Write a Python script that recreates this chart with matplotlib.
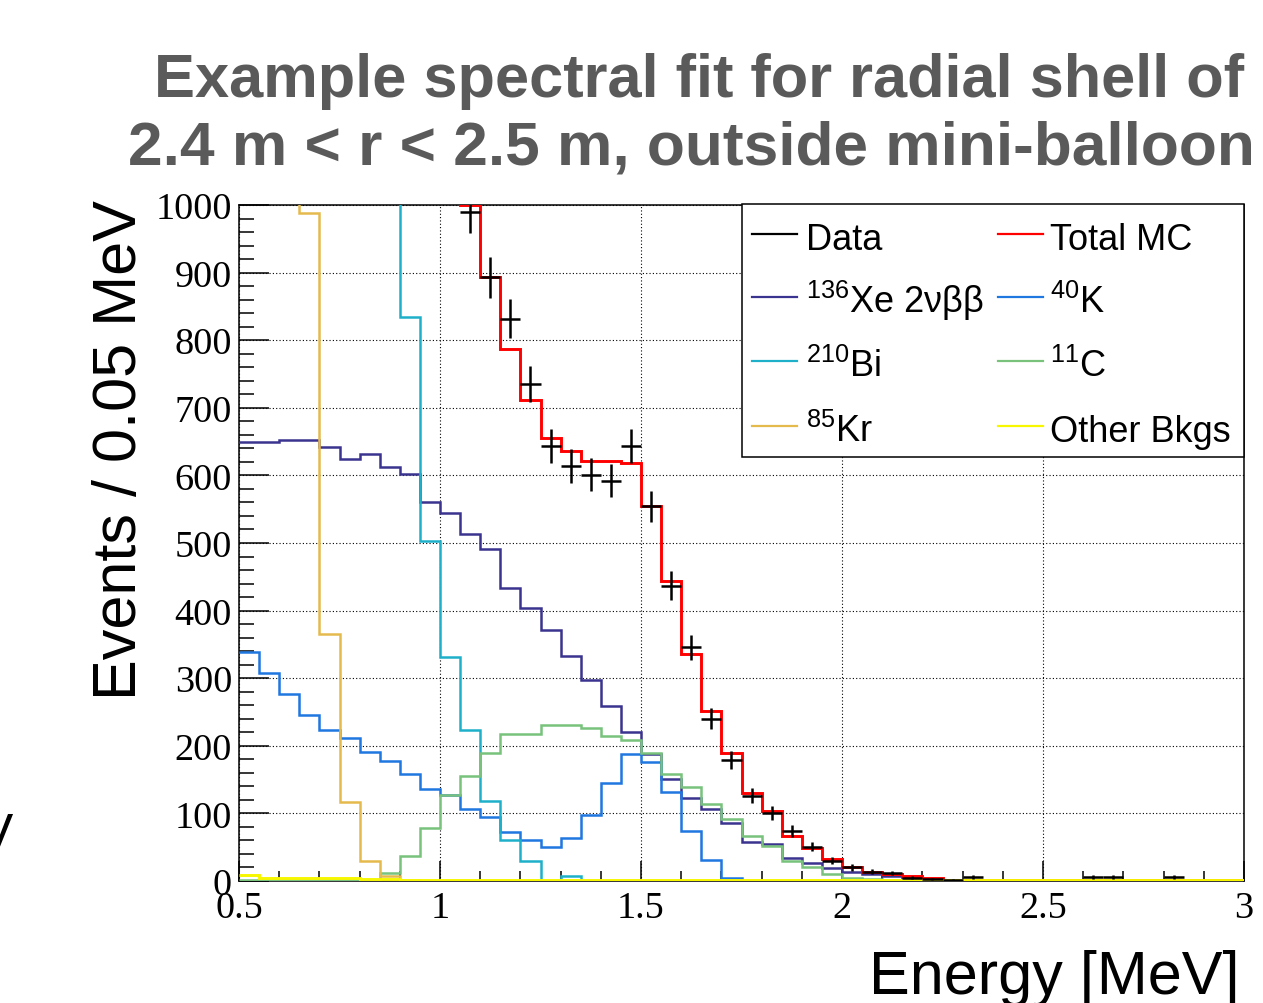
import numpy as np
import matplotlib
matplotlib.use("Agg")
import matplotlib.pyplot as plt
from matplotlib.ticker import MultipleLocator, FuncFormatter
from matplotlib.lines import Line2D
from matplotlib.patches import Rectangle

plt.rcParams['font.family'] = ['Liberation Sans', 'DejaVu Sans']
plt.rcParams['mathtext.fontset'] = 'custom'
plt.rcParams['mathtext.rm'] = 'Liberation Sans'
plt.rcParams['mathtext.it'] = 'Liberation Sans:italic'
plt.rcParams['mathtext.bf'] = 'Liberation Sans:bold'

# ---------------- data (events / 0.05 MeV, 0.5 - 3.0 MeV, 50 bins) ----------------
E_MIN, BIN_W, N_BINS = 0.5, 0.05, 50

xe136 = [649, 649, 652, 652, 642, 625, 631, 613, 602, 560,
         545, 514, 491, 434, 404, 371, 333, 297, 259, 221,
         188, 151, 123, 106, 86, 57, 55, 34, 26, 19,
         14, 10, 7, 5, 3, 2, 1, 1, 0, 0,
         0, 0, 0, 0, 0, 0, 0, 0, 0, 0]
k40 = [339, 308, 277, 245, 224, 211, 191, 178, 158, 136,
       127, 106, 94, 73, 60, 50, 63, 98, 145, 188,
       176, 131, 74, 31, 5, 0, 0, 0, 0, 0,
       0, 0, 0, 0, 0, 0, 0, 0, 0, 0,
       0, 0, 0, 0, 0, 0, 0, 0, 0, 0]
bi210 = [5500, 5100, 4600, 4000, 3300, 2600, 1900, 1300, 835, 503,
         332, 224, 119, 61, 29, 0, 7, 0, 0, 0,
         0, 0, 0, 0, 0, 0, 0, 0, 0, 0,
         0, 0, 0, 0, 0, 0, 0, 0, 0, 0,
         0, 0, 0, 0, 0, 0, 0, 0, 0, 0]
c11 = [1, 1, 1, 1, 1, 1, 2, 12, 37, 79,
       127, 156, 190, 217, 217, 231, 231, 226, 215, 208,
       189, 158, 139, 114, 91, 67, 52, 30, 20, 10,
       5, 3, 2, 1, 0, 0, 0, 0, 0, 0,
       0, 0, 0, 0, 0, 0, 0, 0, 0, 0]
kr85 = [2800, 2300, 1700, 988, 365, 117, 29, 8, 1, 0,
        0, 0, 0, 0, 0, 0, 0, 0, 0, 0,
        0, 0, 0, 0, 0, 0, 0, 0, 0, 0,
        0, 0, 0, 0, 0, 0, 0, 0, 0, 0,
        0, 0, 0, 0, 0, 0, 0, 0, 0, 0]
other = [9, 5, 5, 5, 4, 4, 3, 3, 2, 2,
         2, 2, 2, 2, 2, 2, 2, 2, 2, 2,
         2, 2, 2, 2, 2, 2, 2, 2, 2, 2,
         2, 2, 2, 2, 2, 2, 2, 2, 2, 2,
         2, 2, 2, 2, 2, 2, 2, 2, 2, 1]
total_mc = [9298, 8363, 7235, 5891, 4536, 3558, 2756, 2114, 1635, 1280,
            1133, 1000, 893, 787, 711, 655, 636, 621, 621, 618,
            554, 444, 336, 252, 189, 130, 103, 67, 49, 33,
            21, 14, 10, 7, 5, 2, 2, 2, 2, 2,
            2, 2, 2, 2, 2, 2, 2, 2, 2, 1]
data = [9310, 8350, 7260, 5870, 4550, 3540, 2770, 2100, 1650, 1270,
        1140, 990, 893, 832, 735, 644, 614, 601, 592, 644,
        554, 437, 346, 240, 179, 126, 101, 74, 51, 30,
        20, 14, 12, 5, 3, 2, 6, 0, 0, 0,
        0, 0, 6, 6, 0, 0, 6, 0, 0, 0]

labels = ["Data", "Total MC", r"$^{136}$Xe 2νββ", r"$^{40}$K",
          r"$^{210}$Bi", r"$^{11}$C", r"$^{85}$Kr", "Other Bkgs"]

# ---------------- styles ----------------
C_DATA = "black"
C_TOT = "#ff0000"
C_XE = "#3a338f"
C_K = "#1f77e0"
C_BI = "#1fb0c9"
C_C = "#78c27c"
C_KR = "#e5ba4d"
C_OTH = "#f7f700"
colors = [C_DATA, C_TOT, C_XE, C_K, C_BI, C_C, C_KR, C_OTH]

W, H = 1263, 1004
fig = plt.figure(figsize=(W / 100, H / 100), dpi=100)
ax = fig.add_axes([239 / W, 122 / H, 1005 / W, 676 / H])

edges = E_MIN + BIN_W * np.arange(N_BINS + 1)
centers = 0.5 * (edges[:-1] + edges[1:])

LW = 1.8
ax.stairs(xe136, edges, baseline=None, color=C_XE, lw=LW, zorder=3)
ax.stairs(k40, edges, baseline=None, color=C_K, lw=LW, zorder=3)
ax.stairs(bi210, edges, baseline=None, color=C_BI, lw=LW, zorder=3)
ax.stairs(c11, edges, baseline=None, color=C_C, lw=LW, zorder=3)
ax.stairs(kr85, edges, baseline=None, color=C_KR, lw=LW, zorder=3)
ax.stairs(total_mc, edges, baseline=None, color=C_TOT, lw=2.1, zorder=4)
ax.stairs(other, edges, baseline=None, color=C_OTH, lw=2.1, zorder=5)

d = np.asarray(data, dtype=float)
m = d > 0
ax.errorbar(centers[m], d[m], xerr=BIN_W / 2, yerr=np.sqrt(d[m]), fmt='none',
            ecolor=C_DATA, elinewidth=1.8, capsize=0, zorder=6)

ax.set_xlim(0.5, 3.0)
ax.set_ylim(0, 1000)
ax.xaxis.set_major_locator(MultipleLocator(0.5))
ax.xaxis.set_minor_locator(MultipleLocator(0.1))
ax.yaxis.set_major_locator(MultipleLocator(100))
ax.yaxis.set_minor_locator(MultipleLocator(20))
ax.xaxis.set_major_formatter(FuncFormatter(lambda v, p: f"{v:g}"))
ax.yaxis.set_major_formatter(FuncFormatter(lambda v, p: f"{v:g}"))

ax.tick_params(axis='both', which='both', direction='in', top=False, right=False,
               width=1.1, color='black', labelfontfamily='Liberation Serif', labelsize=27.5)
ax.tick_params(axis='y', which='major', length=21.6, pad=5)
ax.tick_params(axis='y', which='minor', length=10.8)
ax.tick_params(axis='x', which='major', length=14.4, pad=7)
ax.tick_params(axis='x', which='minor', length=7.2)
for s in ax.spines.values():
    s.set_linewidth(1.1)
ax.grid(True, which='major', color='black', linestyle=(0, (1, 2)), linewidth=0.8)
ax.set_axisbelow(True)

ax.set_ylabel("Events / 0.05 MeV", fontsize=44, loc='top')
ax.yaxis.set_label_coords(-0.09, 1.008)
ax.set_xlabel("Energy [MeV]", fontsize=44, loc='right')
ax.xaxis.set_label_coords(0.996, -0.101)

# title
fig.text(699 / W, 1 - 97 / H, "Example spectral fit for radial shell of",
         fontsize=44.2, fontweight='bold', color='#5a5a5a', ha='center', va='baseline')
fig.text(691 / W, 1 - 165 / H, "2.4 m < r < 2.5 m, outside mini-balloon",
         fontsize=44.8, fontweight='bold', color='#5a5a5a', ha='center', va='baseline')

# stray fragment of cropped text at the left edge
fig.text(-4 / W, 1 - 850 / H, "V", fontsize=37, ha='center', va='baseline')

# legend (two columns)
fx = lambda x: x / W
fy = lambda y: 1 - y / H
fig.add_artist(Rectangle((fx(742), fy(458)), 502 / W, 253 / H, transform=fig.transFigure,
                         facecolor='white', edgecolor='black', lw=1.1, zorder=10))
row_base = [250, 313, 377, 442]
col_line = [(752, 797, 806), (998, 1043, 1050)]
for i, (lab, col) in enumerate(zip(labels, colors)):
    r, c = divmod(i, 2)
    x0, x1, xt = col_line[c]
    yb = row_base[r]
    fig.add_artist(Line2D([fx(x0), fx(x1)], [fy(yb - 15), fy(yb - 15)],
                          transform=fig.transFigure, color=col, lw=1.6, zorder=11))
    fig.text(fx(xt), fy(yb), lab, fontsize=26, ha='left', va='baseline', zorder=12)

fig.savefig("out.png", dpi=100)
